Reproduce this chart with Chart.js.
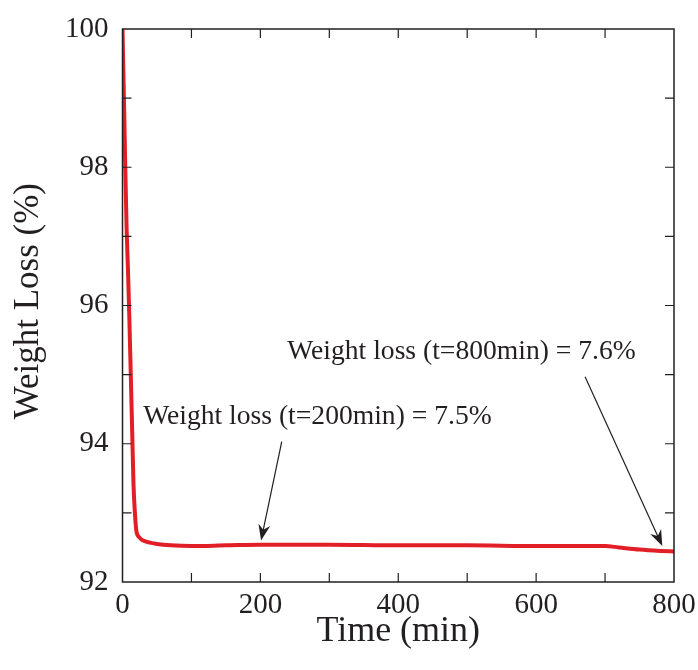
<!DOCTYPE html>
<html lang="en">
<head>
    <meta charset="UTF-8">
    <title>Weight Loss vs Time</title>
    <script src="https://cdn.jsdelivr.net/npm/chart.js"></script>
    <style>
        html, body { margin: 0; padding: 0; background: #fff; }
        #wrap { width: 698px; height: 670px; position: relative; }
    </style>
</head>
<body>
    <div id="wrap"><canvas id="tgaChart" width="698" height="670"></canvas></div>

    <script>
        // values
        const timeMin = [0, 1, 2.5, 4, 6, 8, 10, 12, 14, 16, 18, 20, 24, 30, 40, 50, 70, 100, 150, 200, 300, 400, 500, 600, 700, 720, 750, 780, 800];
        const weightPct = [100, 99.5, 98.8, 98.0, 97.1, 96.5, 95.8, 95.0, 94.2, 93.4, 93.0, 92.75, 92.65, 92.6, 92.57, 92.55, 92.53, 92.52, 92.53, 92.54, 92.54, 92.53, 92.53, 92.52, 92.52, 92.5, 92.47, 92.45, 92.44];
        const xTicks = [0, 200, 400, 600, 800];
        const yTicks = [92, 94, 96, 98, 100];

        const notes = [
            { text: 'Weight loss (t=200min) = 7.5%', at: [30, 94.28], from: [231, 94.03], to: [201, 92.6] },
            { text: 'Weight loss (t=800min) = 7.6%', at: [239, 95.22], from: [671, 94.97], to: [783, 92.52] }
        ];

        const ink = '#231f20';
        const serif = '"Liberation Serif", "Times New Roman", serif';

        // frame with inward ticks on all four sides, plus annotations
        const framePlugin = {
            id: 'frame',
            afterDatasetsDraw(chart) {
                const { ctx, chartArea: a, scales: { x, y } } = chart;
                ctx.save();
                ctx.strokeStyle = ink;
                ctx.lineWidth = 1.5;
                ctx.strokeRect(a.left, a.top, a.right - a.left, a.bottom - a.top);
                ctx.lineWidth = 1.2;
                ctx.beginPath();
                for (let t = 100; t < 800; t += 100) {
                    const px = x.getPixelForValue(t);
                    ctx.moveTo(px, a.bottom); ctx.lineTo(px, a.bottom - 9);
                    ctx.moveTo(px, a.top); ctx.lineTo(px, a.top + 9);
                }
                for (let v = 93; v < 100; v++) {
                    const py = y.getPixelForValue(v);
                    ctx.moveTo(a.left, py); ctx.lineTo(a.left + 9, py);
                    ctx.moveTo(a.right, py); ctx.lineTo(a.right - 9, py);
                }
                ctx.stroke();

                ctx.fillStyle = ink;
                ctx.font = '27.6px ' + serif;
                ctx.textBaseline = 'alphabetic';
                notes.forEach(n => {
                    ctx.fillText(n.text, x.getPixelForValue(n.at[0]), y.getPixelForValue(n.at[1]));
                    const x0 = x.getPixelForValue(n.from[0]), y0 = y.getPixelForValue(n.from[1]);
                    const x1 = x.getPixelForValue(n.to[0]), y1 = y.getPixelForValue(n.to[1]);
                    const ang = Math.atan2(y1 - y0, x1 - x0);
                    ctx.lineWidth = 1.2;
                    ctx.beginPath();
                    ctx.moveTo(x0, y0);
                    ctx.lineTo(x1 - 10 * Math.cos(ang), y1 - 10 * Math.sin(ang));
                    ctx.stroke();
                    // notched arrow head
                    const len = 16, half = 6;
                    const bx = x1 - len * Math.cos(ang), by = y1 - len * Math.sin(ang);
                    const nx = -Math.sin(ang), ny = Math.cos(ang);
                    ctx.beginPath();
                    ctx.moveTo(x1, y1);
                    ctx.lineTo(bx + nx * half, by + ny * half);
                    ctx.lineTo(x1 - 11 * Math.cos(ang), y1 - 11 * Math.sin(ang));
                    ctx.lineTo(bx - nx * half, by - ny * half);
                    ctx.closePath();
                    ctx.fill();
                });
                ctx.restore();
            }
        };

        new Chart(document.getElementById('tgaChart'), {
            type: 'line',
            data: {
                datasets: [{
                    data: timeMin.map((t, i) => ({ x: t, y: weightPct[i] })),
                    borderColor: 'rgb(226, 30, 38)',
                    borderWidth: 4,
                    pointRadius: 0,
                    cubicInterpolationMode: 'monotone',
                    fill: false
                }]
            },
            options: {
                responsive: false,
                animation: false,
                layout: { padding: { top: 29, right: 24, left: 0, bottom: 0 } },
                plugins: { legend: { display: false }, tooltip: { enabled: false } },
                scales: {
                    x: {
                        type: 'linear',
                        min: 0, max: 800,
                        afterFit: s => { s.height = 88; },
                        afterBuildTicks: s => { s.ticks = xTicks.map(v => ({ value: v })); },
                        grid: { display: false },
                        border: { display: false },
                        ticks: { color: ink, padding: -2, maxRotation: 0, font: { family: serif, size: 29 } },
                        title: { display: true, text: 'Time (min)', color: ink, padding: { top: 0, bottom: 17 }, font: { family: serif, size: 36 } }
                    },
                    y: {
                        min: 92, max: 100,
                        afterFit: s => { s.width = 122.5; },
                        afterBuildTicks: s => { s.ticks = yTicks.map(v => ({ value: v })); },
                        grid: { display: false },
                        border: { display: false },
                        ticks: { color: ink, padding: 6, font: { family: serif, size: 29 } },
                        // leading space nudges the rotated title slightly upward, as in the reference
                        title: { display: true, text: ' Weight Loss (%)', color: ink, padding: { top: 8, bottom: 0 }, font: { family: serif, size: 35 } }
                    }
                }
            },
            plugins: [framePlugin]
        });
    </script>
</body>
</html>
